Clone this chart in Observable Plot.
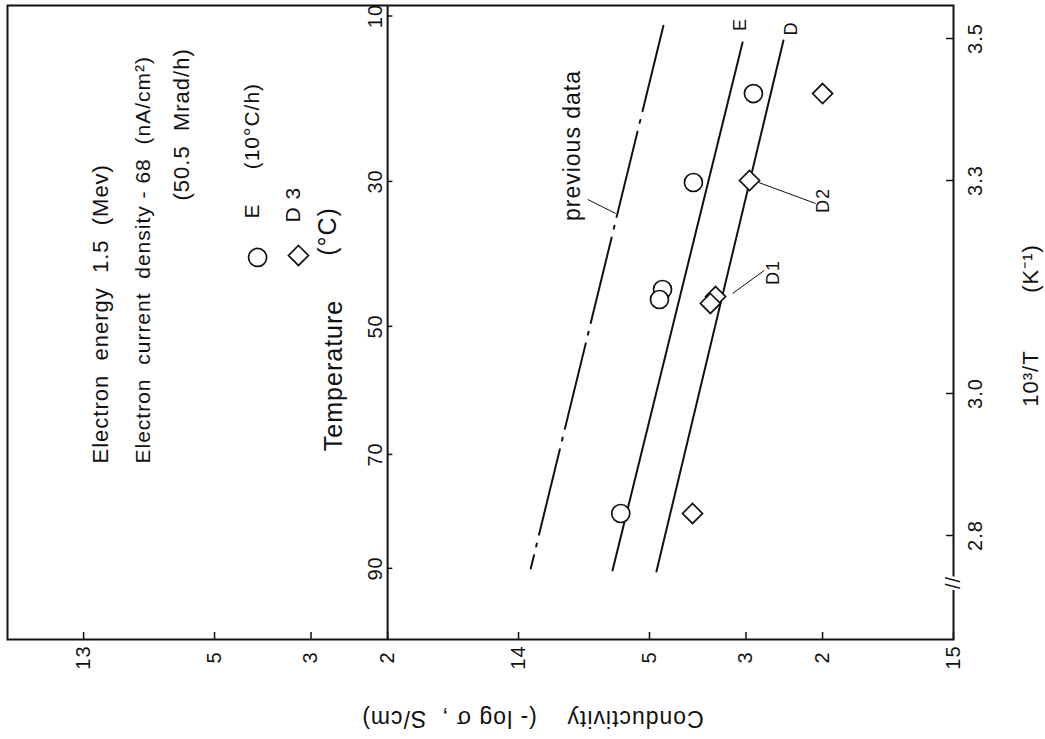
<!DOCTYPE html>
<html>
<head>
<meta charset="utf-8">
<script src="https://cdn.jsdelivr.net/npm/d3@7"></script>
<script src="https://cdn.jsdelivr.net/npm/@observablehq/plot@0.6"></script>
<style>
  html, body { margin: 0; padding: 0; background: #fff; }
  #chart svg text { white-space: pre; letter-spacing: 1px; }
</style>
</head>
<body>
<div id="chart"></div>
<script>
// Conductivity axis (-log σ): decade ticks with intermediate mantissa ticks
const decades = [13, 14, 15];
const mantissas = [5, 3, 2];

// Inverse temperature axis (10^3/T, K^-1)
const invTTicks = [2.8, 3.0, 3.3, 3.5];
const invTTickLabels = ["2.8", "3.0", "3.3", "3.5"];

// Temperature axis (°C)
const tempTicks = [10, 30, 50, 70, 90];

// Sample E (open circles): 10^3/T and -log σ
const sampleE_invT   = [3.4225, 3.2972, 3.1465, 3.1324, 2.8310];
const sampleE_negLog = [14.540, 14.402, 14.331, 14.324, 14.235];

// Sample D (open diamonds): 10^3/T and -log σ
const sampleD_invT   = [3.4225, 3.3000, 3.1366, 3.1268, 2.8310];
const sampleD_negLog = [14.699, 14.531, 14.453, 14.441, 14.400];

// Straight-line fits, end points
const fitE_invT   = [3.4944, 2.7507];
const fitE_negLog = [14.515, 14.216];
const fitD_invT   = [3.4972, 2.7493];
const fitD_negLog = [14.609, 14.317];
const previous_invT   = [3.518, 2.7535];
const previous_negLog = [14.333, 14.028];

// ---- tables built from the arrays above ----
const zip = (a, b) => a.map((t, i) => ({invT: t, negLog: b[i]}));
const sampleE = zip(sampleE_invT, sampleE_negLog);
const sampleD = zip(sampleD_invT, sampleD_negLog);
const fitE = zip(fitE_invT, fitE_negLog);
const fitD = zip(fitD_invT, fitD_negLog);
const previous = zip(previous_invT, previous_negLog);

const condTicks = decades.flatMap((d, i) =>
  i < decades.length - 1
    ? [{v: d, label: String(d)},
       ...mantissas.map(m => ({v: d + 1 - Math.log10(m), label: String(m)}))]
    : [{v: d, label: String(d)}]);
const invTTickRows = invTTicks.map((v, i) => ({v, label: invTTickLabels[i]}));
const toInvT = c => 1000 / (c + 273.15);
// the temperature scale is drawn along the "2" line of the 10^-14 decade
const tempAxisAt = 14 - Math.log10(2);

const xDomain = [12.825, 15.0];
const yDomain = [2.6535, 3.5465];
const font = "'Liberation Sans', Arial, Helvetica, sans-serif";
const ink = "#111";

const vText = (label, x, y, fontSize, anchor = "middle") =>
  Plot.text([label], {x, y, text: d => d, rotate: -90, textAnchor: anchor, lineAnchor: "middle", fontSize, fill: ink});

const chart = Plot.plot({
  width: 1045,
  height: 739,
  marginLeft: 7,
  marginRight: 92,
  marginTop: 5,
  marginBottom: 100,
  style: {fontFamily: font, background: "#fff", color: ink, overflow: "visible"},
  x: {domain: xDomain, axis: null},
  y: {domain: yDomain, axis: null},
  marks: [
    Plot.frame({stroke: ink, strokeWidth: 2}),

    // temperature scale line with ticks and labels
    Plot.ruleX([tempAxisAt], {stroke: ink, strokeWidth: 2}),
    Plot.ruleY(tempTicks, {y: toInvT, x1: tempAxisAt, x2: tempAxisAt + 0.012, stroke: ink, strokeWidth: 1.5}),
    Plot.text(tempTicks, {x: tempAxisAt, y: toInvT, text: d => String(d), rotate: -90, dx: -12,
      textAnchor: "middle", lineAnchor: "middle", fontSize: 20, fill: ink}),

    // 10^3/T ticks (right edge, inward) and labels
    Plot.ruleY(invTTickRows, {y: "v", x1: xDomain[1] - 0.016, x2: xDomain[1], stroke: ink, strokeWidth: 1.5}),
    Plot.text(invTTickRows, {y: "v", text: "label", frameAnchor: "right", dx: 22, rotate: -90,
      textAnchor: "middle", lineAnchor: "middle", fontSize: 20, fill: ink}),

    // conductivity ticks (bottom edge, inward) and labels
    Plot.ruleX(condTicks, {x: "v", y1: yDomain[0], y2: yDomain[0] + 0.0099, stroke: ink, strokeWidth: 1.5}),
    Plot.text(condTicks, {x: "v", text: "label", frameAnchor: "bottom", dy: 18, rotate: -90,
      textAnchor: "middle", lineAnchor: "middle", fontSize: 20, fill: ink}),

    // axis break on the 10^3/T axis
    Plot.text(["//"], {x: xDomain[1], y: 2.7338, text: d => d, rotate: -90, textAnchor: "middle",
      lineAnchor: "middle", fontSize: 20, fill: ink, stroke: "#fff", strokeWidth: 5, paintOrder: "stroke"}),

    // fitted lines
    Plot.line(previous, {x: "negLog", y: "invT", stroke: ink, strokeWidth: 2, strokeDasharray: "88,9,3,9"}),
    Plot.line(fitE, {x: "negLog", y: "invT", stroke: ink, strokeWidth: 2}),
    Plot.line(fitD, {x: "negLog", y: "invT", stroke: ink, strokeWidth: 2}),

    // leader lines for the annotations
    Plot.link([
      {x1: 14.159, y1: 3.2733, x2: 14.223, y2: 3.2536},
      {x1: 14.552, y1: 3.2972, x2: 14.683, y2: 3.2676},
      {x1: 14.492, y1: 3.1409, x2: 14.565, y2: 3.1733}
    ], {x1: "x1", y1: "y1", x2: "x2", y2: "y2", stroke: ink, strokeWidth: 1}),

    // measured points
    Plot.dot(sampleE, {x: "negLog", y: "invT", symbol: "circle", r: 9, fill: "#fff", stroke: ink, strokeWidth: 1.7}),
    Plot.dot(sampleD, {x: "negLog", y: "invT", symbol: "diamond2", r: 9, fill: "#fff", stroke: ink, strokeWidth: 1.7}),

    // line and point labels
    vText("E", 14.510, 3.5197, 18),
    vText("D", 14.628, 3.5141, 18),
    vText("D2", 14.701, 3.2719, 18),
    vText("D1", 14.586, 3.1704, 18),
    vText("previous data", 14.124, 3.3493, 23),

    // irradiation conditions
    vText("Electron  energy  1.5  (Mev)", 13.039, 2.9014, 22, "start"),
    vText("Electron  current  density - 68  (nA/cm²)", 13.138, 2.9014, 21, "start"),
    vText("(50.5  Mrad/h)", 13.227, 3.2719, 22, "start"),

    // legend
    Plot.dot([0], {x: 13.400, y: 3.1916, symbol: "circle", r: 9, fill: "#fff", stroke: ink, strokeWidth: 1.7}),
    vText("E     (10°C/h)", 13.388, 3.2465, 21, "start"),
    Plot.dot([0], {x: 13.494, y: 3.1944, symbol: "diamond2", r: 9, fill: "#fff", stroke: ink, strokeWidth: 1.7}),
    vText("D 3", 13.483, 3.2409, 21, "start"),

    // axis titles
    vText("Temperature", 13.575, 3.0254, 25),
    vText("(°C)", 13.563, 3.2282, 25),
    vText("10³/T", 15.177, 3.0211, 22),
    vText("(K⁻¹)", 15.177, 3.1761, 22),
    Plot.text(["Conductivity    (- log σ ,  S/cm)"], {x: 14.032, y: 2.5423, text: d => d, rotate: 180,
      textAnchor: "middle", lineAnchor: "middle", fontSize: 23, fill: ink})
  ]
});

// wider letter spacing for the typewritten-style titles
const spacing = new Map([
  ["Conductivity    (- log σ ,  S/cm)", "3px"],
  ["(K⁻¹)", "3px"],
  ["Electron  energy  1.5  (Mev)", "1.5px"],
  ["Electron  current  density - 68  (nA/cm²)", "1.3px"],
  ["(50.5  Mrad/h)", "1.3px"]
]);
d3.select(chart).selectAll("text").each(function () {
  const s = spacing.get(this.textContent);
  if (s != null) this.setAttribute("letter-spacing", s);
});

document.getElementById("chart").appendChild(chart);
</script>
</body>
</html>
